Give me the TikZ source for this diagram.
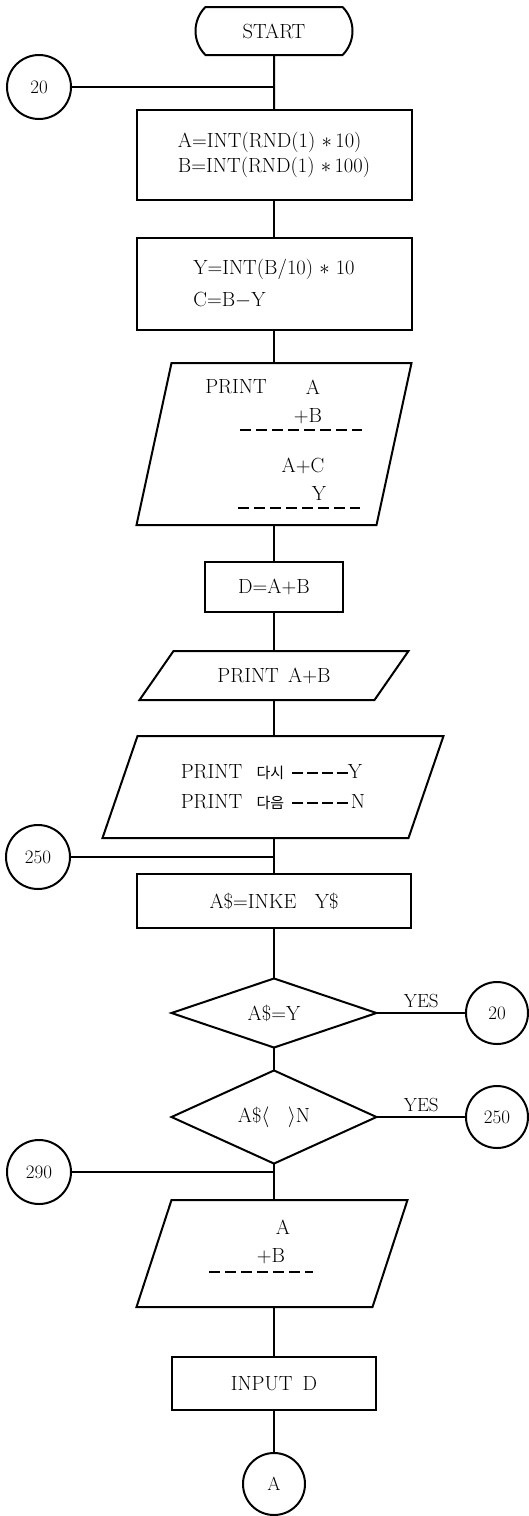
\documentclass[tikz,border=0pt]{standalone}
\usepackage{fontspec}
\newfontfamily\krfont{Noto Sans CJK KR}
\usepackage{tikz}
\usetikzlibrary{shapes.geometric,shapes.misc}
\newcommand{\flowfont}{\fontsize{20.5}{26}\selectfont}
\newcommand{\flowsmallfont}{\fontsize{19}{22}\selectfont}
\newcommand{\kr}[1]{{\krfont\fontsize{15}{15}\selectfont #1}}
\newcommand{\dashrun}{\rule[0.24em]{10.5pt}{1pt}\kern4.5pt\rule[0.24em]{10.5pt}{1pt}\kern4.5pt\rule[0.24em]{10.5pt}{1pt}\kern4.5pt\rule[0.24em]{10.5pt}{1pt}}
\newcommand{\ioframe}[2]{\draw[flow/line] ([xshift=#2]#1.north west) -- (#1.north east) -- ([xshift=-#2]#1.south east) -- (#1.south west) -- cycle;}
\tikzset{
    flow/chart/.style={x=1pt, y=-1pt, font=\flowfont, every node/.style={align=center, outer sep=0pt}},
    flow/terminal/.style={rounded rectangle, rounded rectangle arc length=90, draw, line width=2pt, minimum width=157pt, minimum height=48pt, inner sep=0pt},
    flow/process/.style={rectangle, draw, line width=2pt, inner sep=0pt},
    flow/io/.style={rectangle, inner sep=0pt},
    flow/decision/.style={diamond, draw, line width=2pt, inner sep=0pt, minimum width=205pt, minimum height=68pt},
    flow/connector/.style={circle, draw, line width=2pt, minimum size=64pt, inner sep=0pt, font=\flowsmallfont},
    flow/line/.style={line width=2pt, draw=black},
    flow/label/.style={font=\flowsmallfont, inner sep=5pt},
    flow/dashes/.style={line width=1.5pt, dash pattern=on 11pt off 5pt}
}

\begin{document}
\begin{tikzpicture}[flow/chart]
    \useasboundingbox (0,0) rectangle (528,1516);
    \node[flow/terminal] (start) at (274,31) {START};
    \node[flow/connector] (c20) at (39,87) {20};
    \node[flow/process, minimum width=275pt, minimum height=90pt, align=left, font=\fontsize{20.5}{25}\selectfont] (rnd) at (274,155) {A=INT(RND(1) $\ast$\,10)\\B=INT(RND(1) $\ast$\,100)};
    \node[flow/process, minimum width=275pt, minimum height=92pt, align=left, font=\fontsize{20.5}{32}\selectfont] (split) at (274,284) {Y=INT(B/10) $\ast$ 10\\C=B$-$Y};
    \node[flow/io, minimum width=275pt, minimum height=162pt] (sum) at (274,444) {};
    \ioframe{sum}{35pt}
    \node (sumprint) at (236,387) {PRINT};
    \node (suma) at (313,387) {A};
    \node (sumb) at (308,416) {+B};
    \node (sumac) at (303,466) {A+C};
    \node (sumy) at (319,493) {Y};
    \draw[flow/dashes] (240,430) -- (362,430);
    \draw[flow/dashes] (238,508) -- (360,508);
    \node[flow/process, minimum width=138pt, minimum height=50pt] (addab) at (274,587) {D=A+B};
    \node[flow/io, minimum width=269pt, minimum height=49pt] (show) at (274,675.5) {PRINT\hspace{0.45em}A+B};
    \ioframe{show}{34pt}
    \node[flow/io, minimum width=341pt, minimum height=102pt, align=left, font=\fontsize{20.5}{30}\selectfont] (ask) at (273,787) {PRINT\hspace{0.7em}\kr{다시}\hspace{0.4em}\dashrun Y\\PRINT\hspace{0.7em}\kr{다음}\hspace{0.4em}\dashrun\kern3pt N};
    \ioframe{ask}{35pt}
    \node[flow/connector] (c250) at (38,857) {250};
    \node[flow/process, minimum width=274pt, minimum height=54pt] (inkey) at (274,901) {A\$=INKE\hspace{0.9em}Y\$};
    \node[flow/decision] (dec1) at (274,1013) {A\$=Y};
    \node[flow/connector, minimum size=62pt] (c20r) at (497,1013) {20};
    \node[flow/decision] (dec2) at (274,1117) {A\$$\langle$\hspace{0.9em}$\rangle$N};
    \node[flow/connector, minimum size=62pt] (c250r) at (497,1117) {250};
    \node[flow/connector] (c290) at (39,1172) {290};
    \node[flow/io, minimum width=271pt, minimum height=107pt] (pr4) at (272,1253.5) {};
    \ioframe{pr4}{35pt}
    \node (pr4a) at (283,1227) {A};
    \node (pr4b) at (271,1256) {+B};
    \draw[flow/dashes] (209,1272) -- (313,1272);
    \node[flow/process, minimum width=204pt, minimum height=53pt] (input) at (274,1383.5) {INPUT\hspace{0.5em}D};
    \node[flow/connector, minimum size=62pt] (cA) at (274,1484) {A};
    \foreach \source/\target in {start/rnd,rnd/split,split/sum,sum/addab,addab/show,inkey/dec1,dec1/dec2,input/cA}
        \draw[flow/line] (\source) -- (\target);
    \draw[flow/line] (show) -- (ask.north -| show);
    \draw[flow/line] (ask.south -| inkey) -- (inkey);
    \draw[flow/line] (dec2) -- (pr4.north -| dec2);
    \draw[flow/line] (pr4.south -| input) -- (input);
    \draw[flow/line] (c20) -- (c20 -| start);
    \draw[flow/line] (c250) -- (c250 -| inkey);
    \draw[flow/line] (c290) -- (c290 -| dec2);
    \draw[flow/line] (dec1) -- node[flow/label, above] {YES} (c20r);
    \draw[flow/line] (dec2) -- node[flow/label, above] {YES} (c250r);
\end{tikzpicture}
\end{document}
